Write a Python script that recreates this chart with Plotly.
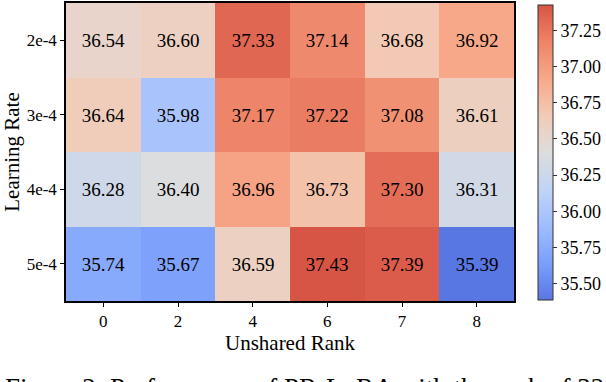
import plotly.graph_objects as go

# data
unshared_rank = ["0", "2", "4", "6", "7", "8"]
learning_rate = ["2e-4", "3e-4", "4e-4", "5e-4"]
scores_2e4 = [36.54, 36.60, 37.33, 37.14, 36.68, 36.92]
scores_3e4 = [36.64, 35.98, 37.17, 37.22, 37.08, 36.61]
scores_4e4 = [36.28, 36.40, 36.96, 36.73, 37.30, 36.31]
scores_5e4 = [35.74, 35.67, 36.59, 37.43, 37.39, 35.39]
cbar_ticks = [35.50, 35.75, 36.00, 36.25, 36.50, 36.75, 37.00, 37.25]
caption = "Figure 2: Performance of PR-LoRA with the rank of 32 under different settings"

z = [scores_2e4, scores_3e4, scores_4e4, scores_5e4]

# coolwarm, trimmed at both ends (the reference never hits the darkest blue/red)
coolwarm = [
    [0.0, "rgb(89,119,227)"],
    [0.125, "rgb(123,159,251)"],
    [0.25, "rgb(158,189,255)"],
    [0.375, "rgb(192,212,245)"],
    [0.5, "rgb(221,221,221)"],
    [0.625, "rgb(242,203,183)"],
    [0.75, "rgb(247,168,137)"],
    [0.875, "rgb(238,132,104)"],
    [1.0, "rgb(215,85,68)"],
]

serif = "Liberation Serif, Times New Roman, serif"

fig = go.Figure(go.Heatmap(
    z=z,
    x=unshared_rank,
    y=learning_rate,
    colorscale=coolwarm,
    zmin=min(min(r) for r in z),
    zmax=max(max(r) for r in z),
    texttemplate="%{z:.2f}",
    textfont=dict(family=serif, size=19, color="black"),
    xgap=0, ygap=0,
    colorbar=dict(
        x=(538 - 66) / 448, xanchor="left",
        y=0.5, yanchor="middle",
        len=0.99, lenmode="fraction",
        thickness=15, thicknessmode="pixels",
        outlinewidth=1, outlinecolor="#333",
        ticks="outside", ticklen=4, tickcolor="#333",
        tickvals=cbar_ticks, ticktext=[f"{t:.2f}" for t in cbar_ticks],
        tickfont=dict(family=serif, size=18, color="black"),
        xpad=0, ypad=0,
    ),
))

fig.update_xaxes(
    type="category", automargin=False,
    title=dict(text="Unshared Rank", font=dict(family=serif, size=21, color="black"), standoff=3),
    tickfont=dict(family=serif, size=17, color="black"),
    ticks="outside", ticklen=4, tickcolor="black",
    showline=True, mirror=True, linecolor="black", linewidth=1.5,
    showgrid=False, zeroline=False,
)
fig.update_yaxes(
    type="category", autorange="reversed", automargin=False,
    title=dict(text="Learning Rate", font=dict(family=serif, size=21, color="black"), standoff=4),
    tickfont=dict(family=serif, size=17, color="black"),
    ticks="outside", ticklen=4, tickcolor="black",
    showline=True, mirror=True, linecolor="black", linewidth=1.5,
    showgrid=False, zeroline=False,
)

# caption of the paper figure, only its top edge shows in the crop
fig.add_annotation(
    text=caption, xref="paper", yref="paper",
    x=-0.14, y=-(388 - 301) / 298, xanchor="left", yanchor="middle",
    showarrow=False, align="left",
    font=dict(family=serif, size=27, color="black"),
)

fig.update_layout(
    width=606, height=382,
    margin=dict(l=66, r=92, t=3, b=81, autoexpand=False),
    paper_bgcolor="white", plot_bgcolor="white",
)

# drop the default 8px body margin so the figure sits at the window corner
fig.write_html(
    "out.html",
    config={"displayModeBar": False},
    post_script="document.body.style.margin='0px';",
)
